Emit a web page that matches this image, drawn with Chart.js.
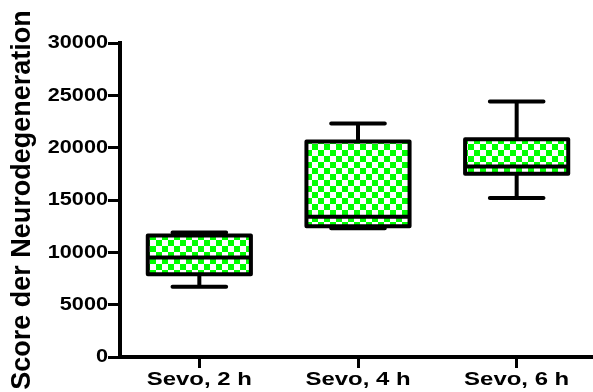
<!DOCTYPE html>
<html>
<head>
<meta charset="utf-8">
<script src="https://cdn.jsdelivr.net/npm/chart.js@4.4.1/dist/chart.umd.min.js"></script>
<style>
  html, body { margin: 0; padding: 0; background: #ffffff; overflow: hidden; }
  #wrap { width: 593px; height: 392px; overflow: hidden; }
  canvas { display: block; }
</style>
</head>
<body>
<div id="wrap"><canvas id="chart" width="600" height="392"></canvas></div>
<script>
// Groups and five-number summaries (score values)
const categories = ['Sevo, 2 h', 'Sevo, 4 h', 'Sevo, 6 h'];
const whiskerHigh = [11900, 22300, 24400];
const q3 = [11600, 20600, 20800];
const median = [9500, 13400, 18200];
const q1 = [7900, 12500, 17500];
const whiskerLow = [6700, 12300, 15200];
const yTicks = [0, 5000, 10000, 15000, 20000, 25000, 30000];

const FONT = '"Liberation Sans", Arial, Helvetica, sans-serif';
const INK = '#000000';
const LINE = 4;

// green / white checkerboard fill for the boxes
function checkerPattern() {
  const c = document.createElement('canvas');
  c.width = 12; c.height = 12;
  const g = c.getContext('2d');
  g.fillStyle = '#ffffff';
  g.fillRect(0, 0, 12, 12);
  g.fillStyle = '#00ff00';
  g.fillRect(0, 0, 6, 6);
  g.fillRect(6, 6, 6, 6);
  return document.getElementById('chart').getContext('2d').createPattern(c, 'repeat');
}

// horizontal stretch applied to tick label glyphs, per axis
const labelStretch = { x: 1.33, y: 1.14 };
const stretchLabels = {
  id: 'stretchLabels',
  beforeDraw(chart) {
    Object.values(chart.scales).forEach(scale => {
      if (scale._stretchWrapped) return;
      const sx = labelStretch[scale.id] || 1;
      const orig = scale.drawLabels;
      scale.drawLabels = function (area) {
        const ctx = this.ctx;
        const fill = ctx.fillText;
        ctx.fillText = function (text, x, y) {
          this.save();
          this.translate(x, y);
          this.scale(sx, 1);
          fill.call(this, text, 0, 0);
          this.restore();
        };
        try { orig.call(this, area); } finally { delete ctx.fillText; }
      };
      scale._stretchWrapped = true;
    });
  }
};

// whiskers, box outline and median line on top of the filled boxes
const boxOutline = {
  id: 'boxOutline',
  afterDatasetsDraw(chart) {
    const ctx = chart.ctx;
    const y = chart.scales.y;
    const meta = chart.getDatasetMeta(0);
    ctx.save();
    ctx.strokeStyle = INK;
    ctx.lineWidth = LINE;
    meta.data.forEach((bar, i) => {
      const { x, width } = bar.getProps(['x', 'width'], true);
      const left = x - width / 2, right = x + width / 2;
      const yHi = y.getPixelForValue(whiskerHigh[i]);
      const yQ3 = y.getPixelForValue(q3[i]);
      const yMed = y.getPixelForValue(median[i]);
      const yQ1 = y.getPixelForValue(q1[i]);
      const yLo = y.getPixelForValue(whiskerLow[i]);
      const cap = width * 0.26;

      // whisker stems
      ctx.lineCap = 'butt';
      ctx.beginPath();
      ctx.moveTo(x, yQ3); ctx.lineTo(x, yHi);
      ctx.moveTo(x, yQ1); ctx.lineTo(x, yLo);
      ctx.stroke();

      // box outline
      ctx.lineJoin = 'round';
      ctx.strokeRect(left, yQ3, width, yQ1 - yQ3);

      // median
      ctx.beginPath();
      ctx.moveTo(left, yMed); ctx.lineTo(right, yMed);
      ctx.stroke();

      // whisker caps
      ctx.lineCap = 'round';
      ctx.beginPath();
      ctx.moveTo(x - cap, yHi); ctx.lineTo(x + cap, yHi);
      ctx.moveTo(x - cap, yLo); ctx.lineTo(x + cap, yLo);
      ctx.stroke();
    });
    ctx.restore();
  }
};

new Chart(document.getElementById('chart'), {
  type: 'bar',
  data: {
    labels: categories,
    datasets: [{
      data: q1.map((v, i) => [v, q3[i]]),
      backgroundColor: checkerPattern(),
      borderWidth: 0,
      categoryPercentage: 1,
      barPercentage: 0.65
    }]
  },
  options: {
    responsive: false,
    animation: false,
    devicePixelRatio: 1,
    layout: { padding: { top: 43, right: 4, bottom: 0, left: 0 } },
    plugins: { legend: { display: false }, tooltip: { enabled: false } },
    scales: {
      x: {
        type: 'category',
        offset: true,
        grid: { display: true, offset: false, drawOnChartArea: false, drawTicks: true, tickLength: 11, tickWidth: 3, tickColor: INK },
        border: { display: true, color: INK, width: LINE },
        ticks: { color: INK, padding: 1, font: { family: FONT, size: 18, weight: 'bold' }, maxRotation: 0, autoSkip: false },
        afterFit(scale) { scale.height = 35; }
      },
      y: {
        min: 0,
        max: 30000,
        afterBuildTicks(scale) { scale.ticks = yTicks.map(v => ({ value: v })); },
        grid: { display: true, drawOnChartArea: false, drawTicks: true, tickLength: 12, tickWidth: 3, tickColor: INK },
        border: { display: true, color: INK, width: LINE },
        ticks: {
          color: INK,
          padding: 0,
          font: { family: FONT, size: 19, weight: 'bold' },
          callback: (value) => String(value)
        },
        title: {
          display: true,
          text: 'Score der Neurodegeneration',
          color: INK,
          font: { family: FONT, size: 27, weight: 'bold' },
          padding: { top: 6, bottom: 0 }
        },
        afterFit(scale) { scale.width = 120; }
      }
    }
  },
  plugins: [stretchLabels, boxOutline]
});
</script>
</body>
</html>
